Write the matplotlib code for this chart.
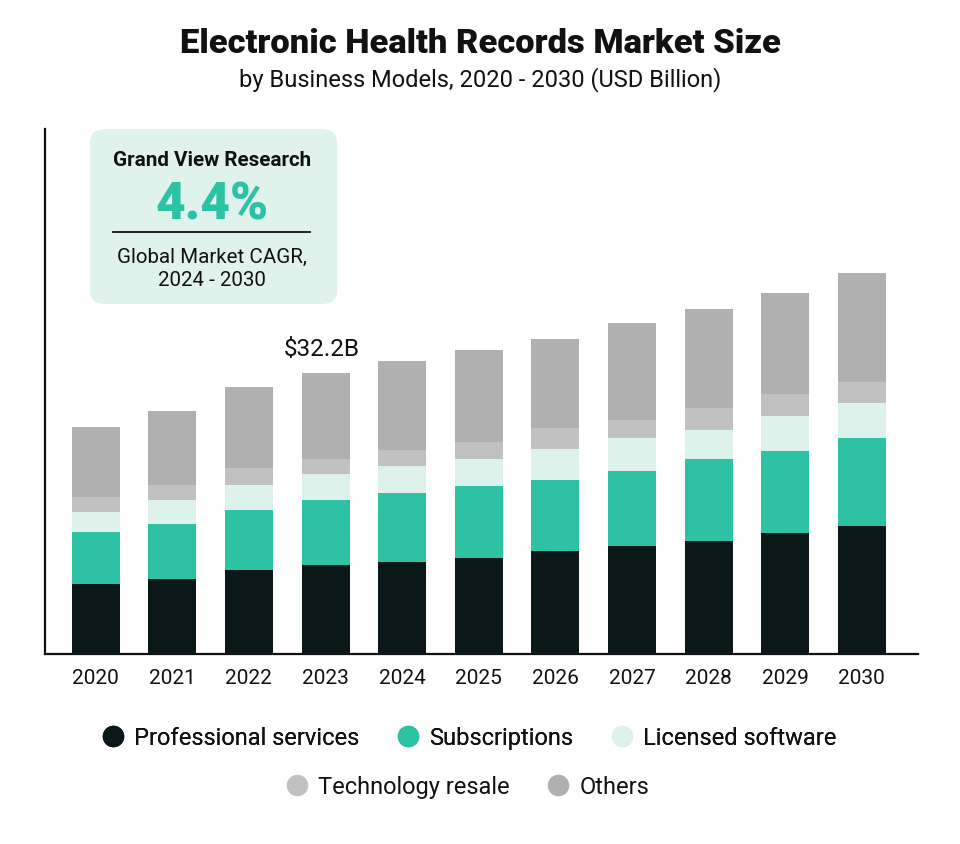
import matplotlib

matplotlib.use("Agg")
import matplotlib.pyplot as plt
import numpy as np
from matplotlib.lines import Line2D
from matplotlib.patches import FancyBboxPatch

plt.rcParams["font.family"] = ["Roboto", "DejaVu Sans"]

# ---- data (USD billion) -------------------------------------------------
years = ["2020", "2021", "2022", "2023", "2024", "2025", "2026", "2027", "2028", "2029", "2030"]
professional = [8.11, 8.68, 9.64, 10.25, 10.63, 11.02, 11.82, 12.39, 12.96, 13.95, 14.75]
subscriptions = [5.89, 6.26, 6.87, 7.44, 7.87, 8.24, 8.20, 8.62, 9.42, 9.39, 10.01]
licensed = [2.29, 2.75, 2.90, 2.94, 3.13, 3.16, 3.52, 3.74, 3.36, 3.94, 4.08]
resale = [1.75, 1.72, 1.95, 1.75, 1.76, 1.91, 2.40, 2.10, 2.52, 2.55, 2.37]
others = [8.05, 8.44, 9.28, 9.82, 10.19, 10.57, 10.16, 11.19, 11.34, 11.57, 12.56]

series = ["Professional services", "Subscriptions", "Licensed software", "Technology resale", "Others"]
colors = ["#0B1819", "#2EC2A5", "#DDF2EB", "#C1C1C1", "#B0B0B0"]
INK = "#111111"

fig = plt.figure(figsize=(9.6, 8.45), dpi=100)
ax = fig.add_axes([0.047, 0.2243, 0.909, 0.6217])

x = np.arange(len(years))
bottom = np.zeros(len(years))
for vals, col in zip([professional, subscriptions, licensed, resale, others], colors):
    ax.bar(x, vals, bottom=bottom, width=0.627, color=col, zorder=3)
    bottom += np.array(vals)

ax.set_xlim(-0.66, 10.73)
ax.set_ylim(0, 60.2)
ax.set_yticks([])
ax.set_xticks(x)
ax.set_xticklabels(years, fontsize=15, color=INK)
ax.tick_params(axis="x", length=0, pad=9.5)
for s in ("top", "right"):
    ax.spines[s].set_visible(False)
for s in ("left", "bottom"):
    ax.spines[s].set_color(INK)
    ax.spines[s].set_linewidth(1.6)

# total label on 2023
i23 = years.index("2023")
ax.text(x[i23] - 0.05, bottom[i23] + 1.5, f"${bottom[i23]:.1f}B", ha="center", va="bottom", fontsize=17.5, color=INK)

# ---- titles ----------------------------------------------------------------
fig.text(0.5, 0.948, "Electronic Health Records Market Size", ha="center", va="center",
         fontsize=24.8, fontweight="black", color=INK)
fig.text(0.5, 0.906, "by Business Models, 2020 - 2030 (USD Billion)", ha="center", va="center",
         fontsize=17, color=INK)

# ---- CAGR box --------------------------------------------------------------
W, H = 960, 845
box = FancyBboxPatch((90 / W, 1 - 305 / H), 247 / W, 175 / H, boxstyle="round,pad=0,rounding_size=0.016",
                     transform=fig.transFigure, facecolor="#DFF3EC", edgecolor="none", zorder=5)
fig.add_artist(box)
cx = 212 / W
fig.text(cx, 1 - 160 / H, "Grand View Research", ha="center", va="center", fontsize=14.9,
         fontweight="bold", color=INK, zorder=6)
fig.text(cx, 1 - 206 / H, "4.4%", ha="center", va="center", fontsize=37, fontweight="black",
         color="#2EC2A5", zorder=6)
fig.add_artist(Line2D([113 / W, 310 / W], [1 - 233 / H, 1 - 233 / H], transform=fig.transFigure,
                      color=INK, lw=1.3, zorder=6))
fig.text(cx, 1 - 269 / H, "Global Market CAGR,\n2024 - 2030", ha="center", va="center", fontsize=14.8,
         color=INK, linespacing=1.3, zorder=6)

# ---- legend ----------------------------------------------------------------
handles = [Line2D([], [], marker="o", ls="none", markersize=14.5, markerfacecolor=c, markeredgecolor=c)
           for c in colors]
kw = dict(loc="center", frameon=False, fontsize=17, handlelength=0.9, handletextpad=0.45,
          columnspacing=1.6, labelcolor=INK)
leg1 = fig.legend(handles[:3], series[:3], bbox_to_anchor=(0.489, 1 - 739 / H), ncol=3, **kw)
fig.add_artist(leg1)
fig.legend(handles[3:], series[3:], bbox_to_anchor=(0.487, 1 - 788 / H), ncol=2, **kw)

fig.savefig("out.png", dpi=100, facecolor="white")
